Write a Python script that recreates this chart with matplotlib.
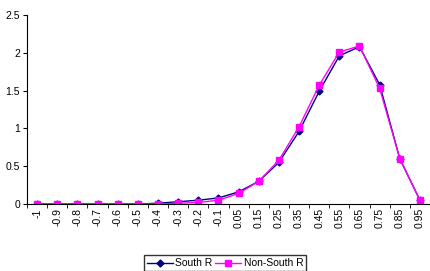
import numpy as np
import matplotlib.pyplot as plt

plt.rcParams['font.family'] = ['Liberation Sans', 'DejaVu Sans']

categories = ["-1", "-0.9", "-0.8", "-0.7", "-0.6", "-0.5", "-0.4", "-0.3", "-0.2", "-0.1",
              "0.05", "0.15", "0.25", "0.35", "0.45", "0.55", "0.65", "0.75", "0.85", "0.95"]
south = [0, 0, 0, 0, 0, 0, 0.01, 0.03, 0.05, 0.08,
         0.16, 0.30, 0.55, 0.96, 1.49, 1.96, 2.08, 1.58, 0.60, 0.05]
non_south = [0, 0, 0, 0, 0, 0, 0.0, 0.01, 0.02, 0.05,
             0.14, 0.30, 0.58, 1.02, 1.57, 2.01, 2.09, 1.53, 0.60, 0.05]

fig = plt.figure(figsize=(4.3, 2.71), dpi=100)
ax = fig.add_axes([27 / 430, 1 - 204 / 271, 403 / 430, 189 / 271])

x = np.arange(len(categories))
ax.plot(x, south, color='#000080', marker='D', markersize=3.5, linewidth=1, label='South R')
ax.plot(x, non_south, color='#FF00FF', marker='s', markersize=5, linewidth=1, label='Non-South R')

ax.set_xlim(-0.5, len(categories) - 0.5)
ax.set_ylim(0, 2.5)
ax.set_yticks([0, 0.5, 1, 1.5, 2, 2.5])
ax.set_yticklabels(["0", "0.5", "1", "1.5", "2", "2.5"], fontsize=7.5)
ax.set_xticks(x)
ax.set_xticklabels(categories, rotation=90, fontsize=7.5)
ax.tick_params(axis='x', length=0, pad=3)
ax.set_xticks(np.arange(-0.5, len(categories), 1), minor=True)
ax.tick_params(axis='x', which='minor', length=3, direction='out')
ax.tick_params(axis='y', length=3, direction='out', pad=2)

ax.spines['top'].set_visible(False)
ax.spines['right'].set_visible(False)

ax.legend(loc='upper center', bbox_to_anchor=(225 / 430, 1 - 250 / 271),
          bbox_transform=fig.transFigure, ncol=2,
          fontsize=7.5, frameon=True, fancybox=False, edgecolor='black',
          handlelength=2.5, columnspacing=0.3, handletextpad=0.2, borderpad=0.3)

fig.savefig('out.png', dpi=100)
